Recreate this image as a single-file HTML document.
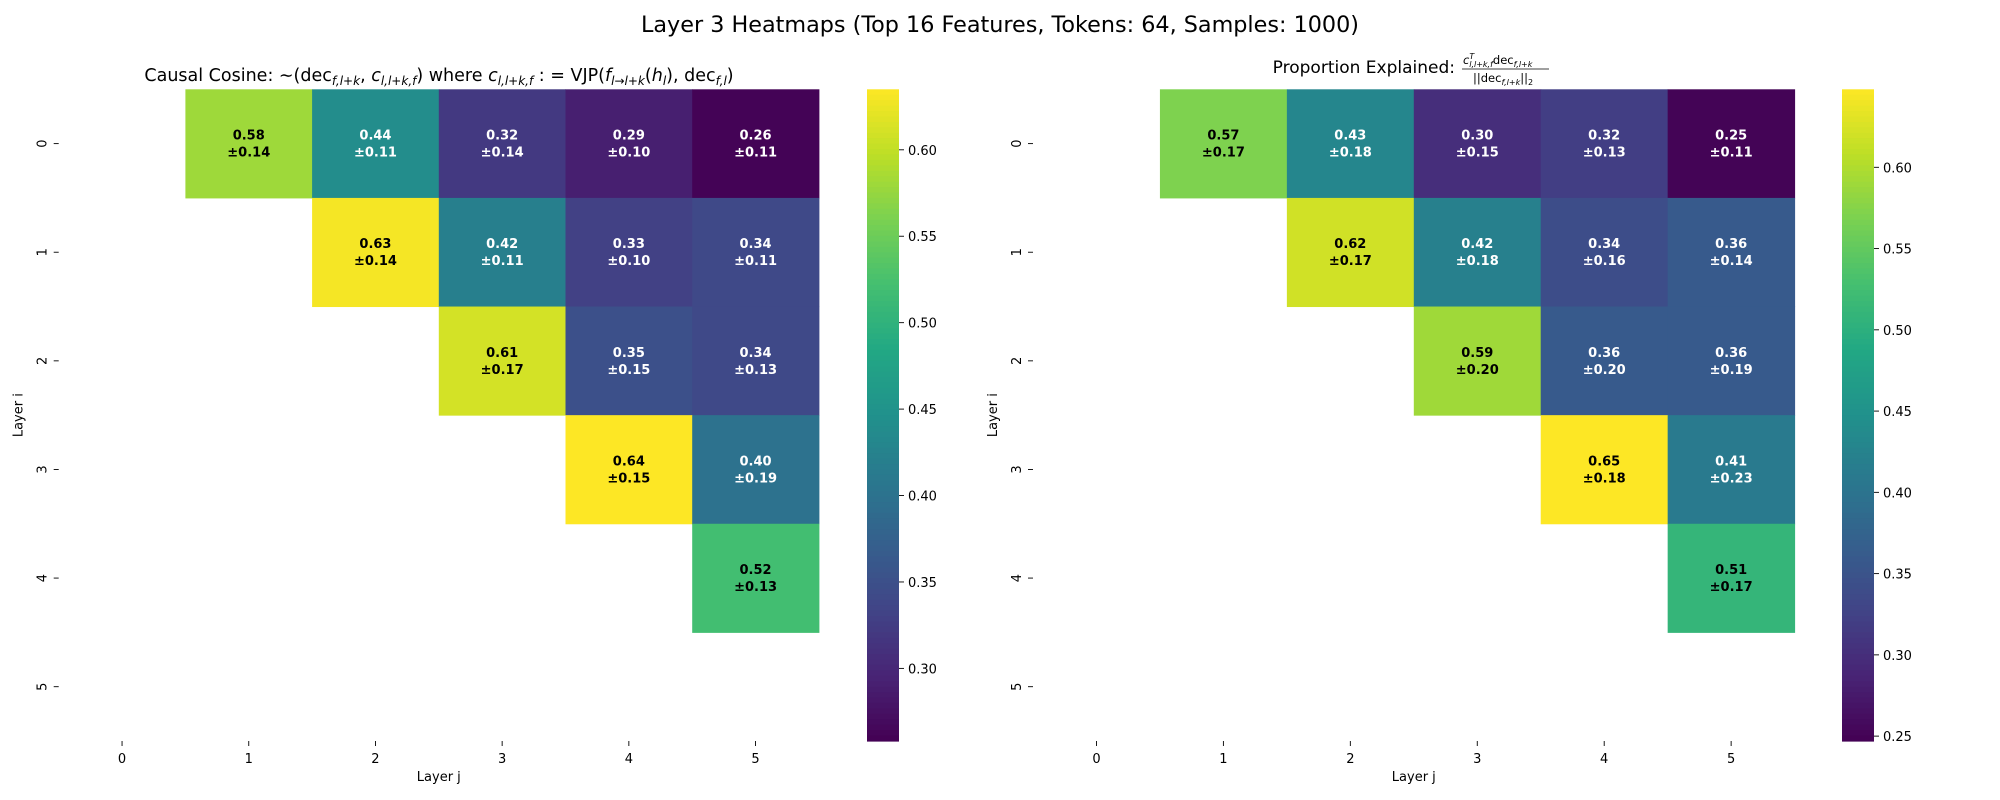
<!DOCTYPE html>
<html><head><meta charset="utf-8"><style>
html,body{margin:0;padding:0;background:#fff;}
svg{display:block;font-family:"DejaVu Sans","Liberation Sans",sans-serif;}
</style></head><body>
<svg id="chart" width="2000" height="800" viewBox="0 0 2000 800" xmlns="http://www.w3.org/2000/svg">
<text x="1000" y="32" text-anchor="middle" font-size="22.3">Layer 3 Heatmaps (Top 16 Features, Tokens: 64, Samples: 1000)</text>
<text x="439" y="81" text-anchor="middle" font-size="17.5">Causal Cosine:  ∼(dec<tspan font-size="12" dy="4" font-style="italic">f,l+k</tspan><tspan dy="-4">, </tspan><tspan font-style="italic">c</tspan><tspan font-size="12" dy="4" font-style="italic">l,l+k,f</tspan><tspan dy="-4">) where </tspan><tspan font-style="italic">c</tspan><tspan font-size="12" dy="4" font-style="italic">l,l+k,f</tspan><tspan dy="-4"> : = VJP(</tspan><tspan font-style="italic">f</tspan><tspan font-size="12" dy="4" font-style="italic">l→l+k</tspan><tspan dy="-4">(</tspan><tspan font-style="italic">h</tspan><tspan font-size="12" dy="4" font-style="italic">l</tspan><tspan dy="-4">), dec</tspan><tspan font-size="12" dy="4" font-style="italic">f,l</tspan><tspan dy="-4">)</tspan></text>
<g>
<text x="1455" y="73" font-size="17" text-anchor="end">Proportion Explained:</text>
<text x="1463" y="64" font-size="11.5"><tspan font-style="italic">c</tspan><tspan font-size="8" dy="-5" font-style="italic">T</tspan><tspan font-size="8" dy="8" dx="-5" font-style="italic">l,l+k,f</tspan><tspan dy="-3">dec</tspan><tspan font-size="8" dy="3" font-style="italic">f,l+k</tspan></text>
<line x1="1462" y1="69" x2="1549" y2="69" stroke="#000" stroke-width="0.8"/>
<text x="1473" y="82" font-size="11.5">||dec<tspan font-size="8" dy="3" font-style="italic">f,l+k</tspan><tspan dy="-3">||</tspan><tspan font-size="8" dy="3">2</tspan></text>
</g>
</svg>
<script>
const layersI = [0,1,2,3,4,5];
const layersJ = [0,1,2,3,4,5];
const leftMeans = [
 [null,0.58,0.44,0.32,0.29,0.26],
 [null,null,0.63,0.42,0.33,0.34],
 [null,null,null,0.61,0.35,0.34],
 [null,null,null,null,0.64,0.40],
 [null,null,null,null,null,0.52],
 [null,null,null,null,null,null]];
const leftStds = [
 [null,0.14,0.11,0.14,0.10,0.11],
 [null,null,0.14,0.11,0.10,0.11],
 [null,null,null,0.17,0.15,0.13],
 [null,null,null,null,0.15,0.19],
 [null,null,null,null,null,0.13],
 [null,null,null,null,null,null]];
const rightMeans = [
 [null,0.57,0.43,0.30,0.32,0.25],
 [null,null,0.62,0.42,0.34,0.36],
 [null,null,null,0.59,0.36,0.36],
 [null,null,null,null,0.65,0.41],
 [null,null,null,null,null,0.51],
 [null,null,null,null,null,null]];
const rightStds = [
 [null,0.17,0.18,0.15,0.13,0.11],
 [null,null,0.17,0.18,0.16,0.14],
 [null,null,null,0.20,0.20,0.19],
 [null,null,null,null,0.18,0.23],
 [null,null,null,null,null,0.17],
 [null,null,null,null,null,null]];
const leftCbTicks = [0.30,0.35,0.40,0.45,0.50,0.55,0.60];
const rightCbTicks = [0.25,0.30,0.35,0.40,0.45,0.50,0.55,0.60];
const leftRange = [0.258,0.635];
const rightRange = [0.247,0.648];

const VIR = ["#440154","#482475","#414487","#355f8d","#2a788e","#21918c","#22a884","#44bf70","#7ad151","#bddf26","#fde725"];
function hex(h){return [1,3,5].map(i=>parseInt(h.substr(i,2),16));}
function viridis(t){t=Math.max(0,Math.min(1,t));const p=t*10,i=Math.min(9,Math.floor(p)),f=p-i;
 const a=hex(VIR[i]),b=hex(VIR[i+1]);const c=a.map((v,k)=>Math.round(v+(b[k]-v)*f));return c;}
function lum(c){const l=c.map(v=>{v/=255;return v<=0.03928?v/12.92:Math.pow((v+0.055)/1.055,2.4);});return 0.2126*l[0]+0.7152*l[1]+0.0722*l[2];}
const NS="http://www.w3.org/2000/svg";
const svg=document.getElementById('chart');
function mk(tag,attrs,parent,txt){const e=document.createElementNS(NS,tag);for(const k in attrs)e.setAttribute(k,attrs[k]);if(txt!==undefined)e.textContent=txt;(parent||svg).appendChild(e);return e;}

function panel(name,x0,x1,cbx,means,stds,range,ticks){
 const y0=89.3,y1=741;
 const g=mk('g',{});
 
 
 const cw=(x1-x0)/layersJ.length, rh=(y1-y0)/layersI.length;
 const xs=j=>x0+j*cw, ys=i=>y0+i*rh;
 const norm=v=>(v-range[0])/(range[1]-range[0]);
 layersI.forEach((li,i)=>layersJ.forEach((lj,j)=>{
  const v=means[i][j]; if(v===null) return;
  const c=viridis(norm(v));
  const r=mk('rect',{x:xs(j),y:ys(i),width:cw+0.5,height:rh+0.5,fill:`rgb(${c})`},g);
  
  
  const col=lum(c)>0.3?'#000':'#fff';
  const cx=xs(j)+cw/2, cy=ys(i)+rh/2;
  const t1=mk('text',{x:cx,y:cy-4,'text-anchor':'middle','font-size':13,'font-weight':'bold',fill:col},g,v.toFixed(2));
  
  
  const t2=mk('text',{x:cx,y:cy+13,'text-anchor':'middle','font-size':13,'font-weight':'bold',fill:col},g,'±'+stds[i][j].toFixed(2));
  
  
 }));
 layersJ.forEach((lj,j)=>{
  const cx=xs(j)+cw/2;
  mk('line',{x1:cx,x2:cx,y1:y1,y2:y1+5,stroke:'#000','stroke-width':0.9},g);
  const t=mk('text',{x:cx,y:y1+22,'text-anchor':'middle','font-size':13},g,String(lj));
  
  
 });
 layersI.forEach((li,i)=>{
  const cy=ys(i)+rh/2;
  mk('line',{x1:x0-5,x2:x0,y1:cy,y2:cy,stroke:'#000','stroke-width':0.9},g);
  const tx=x0-12;
  const t=mk('text',{x:tx,y:cy,'text-anchor':'middle','font-size':13,transform:`rotate(-90 ${tx} ${cy})`},g,String(li));
  
  
 });
 const xl=mk('text',{x:(x0+x1)/2,y:781,'text-anchor':'middle','font-size':13},g,'Layer j');
 
 
 const yx=x0-36,yy=(y0+y1)/2;
 const yl=mk('text',{x:yx,y:yy,'text-anchor':'middle','font-size':13,transform:`rotate(-90 ${yx} ${yy})`},g,'Layer i');
 
 
 const cb=mk('g',{},g);
 
 
 const N=120,h=(y1-y0)/N;
 for(let k=0;k<N;k++){const c=viridis(1-(k+0.5)/N);mk('rect',{x:cbx,y:y0+k*h,width:32,height:h+0.6,fill:`rgb(${c})`},cb);}
 ticks.forEach(tv=>{
  const y=y1-norm(tv)*(y1-y0);
  mk('line',{x1:cbx+32,x2:cbx+37,y1:y,y2:y,stroke:'#000','stroke-width':0.9},cb);
  const t=mk('text',{x:cbx+41,y:y+5,'font-size':13},cb,tv.toFixed(2));
  
  
 });
}
panel('causal-cosine',58.7,818.9,867,leftMeans,leftStds,leftRange,leftCbTicks);
panel('proportion-explained',1033,1794.6,1842,rightMeans,rightStds,rightRange,rightCbTicks);
</script>
</body></html>
